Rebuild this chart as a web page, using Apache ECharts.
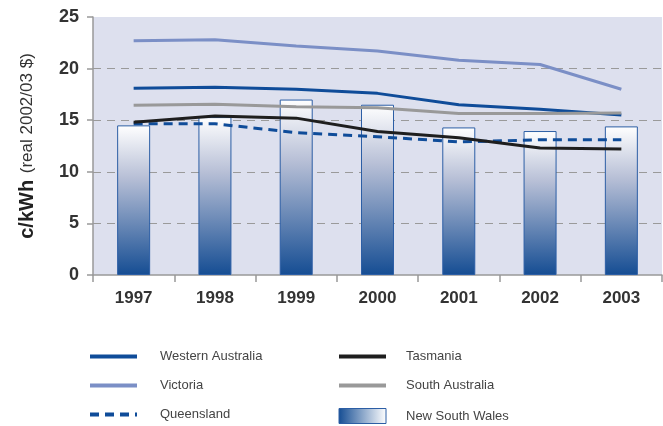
<!DOCTYPE html>
<html>
<head>
<meta charset="utf-8">
<script src="https://cdn.jsdelivr.net/npm/echarts@6/dist/echarts.min.js"></script>
<style>
  html, body { margin: 0; padding: 0; background: #fff; }
  #chart { width: 663px; height: 426px; }
</style>
</head>
<body>
<div id="chart"></div>
<script>
const years = ['1997', '1998', '1999', '2000', '2001', '2002', '2003'];
const newSouthWales = [14.5, 15.3, 17.0, 16.5, 14.3, 13.95, 14.4];
const victoria = [22.7, 22.8, 22.2, 21.7, 20.8, 20.4, 18.0];
const westernAustralia = [18.1, 18.2, 18.0, 17.6, 16.5, 16.05, 15.5];
const southAustralia = [16.45, 16.55, 16.3, 16.2, 15.65, 15.65, 15.7];
const tasmania = [14.8, 15.4, 15.2, 13.9, 13.3, 12.3, 12.2];
const queensland = [14.65, 14.65, 13.8, 13.4, 12.9, 13.1, 13.1];
const yTicks = [0, 25, 5];

const font = 'Liberation Sans, Arial, sans-serif';

// 막대 그라데이션 (위 흰색 -> 아래 진한 파랑)
const barFill = new echarts.graphic.LinearGradient(0, 0, 0, 1, [
  { offset: 0, color: '#ffffff' },
  { offset: 0.35, color: '#b7bfd6' },
  { offset: 1, color: '#154d93' }
]);
const legendFill = new echarts.graphic.LinearGradient(0, 0, 1, 0, [
  { offset: 0, color: '#154d93' },
  { offset: 1, color: '#ffffff' }
]);

function lineSeries(name, data, color, width, dashed) {
  return {
    name: name,
    type: 'line',
    data: data,
    symbol: 'none',
    z: 3,
    lineStyle: { color: color, width: width, type: dashed ? [9, 6] : 'solid' },
    itemStyle: { color: color }
  };
}

function legendBlock(left, textGap, items) {
  return {
    orient: 'vertical', left: left, top: 350, padding: 0,
    itemWidth: 47, itemHeight: 15, itemGap: 16,
    itemStyle: { opacity: 0 },
    lineStyle: { width: 4 },
    textStyle: { fontSize: 13, color: '#444', padding: [0, 0, 0, textGap] },
    data: items
  };
}

const chart = echarts.init(document.getElementById('chart'));
chart.setOption({
  animation: false,
  textStyle: { fontFamily: font },
  grid: {
    left: 93, right: 1, top: 17, bottom: 151,
    show: true, backgroundColor: '#dde0ee', borderWidth: 0
  },
  legend: [
    legendBlock(88, 18, ['Western Australia', 'Victoria', 'Queensland']),
    legendBlock(337, 15, [
      'Tasmania',
      'South Australia',
      {
        name: 'New South Wales', icon: 'rect',
        itemStyle: { opacity: 1, color: legendFill, borderColor: '#2c5ea5', borderWidth: 1 }
      }
    ])
  ],
  xAxis: {
    type: 'category',
    data: years,
    boundaryGap: true,
    axisLine: { lineStyle: { color: '#999', width: 1.5 } },
    axisTick: { show: true, length: 7, lineStyle: { color: '#999', width: 1.5 } },
    axisLabel: { fontSize: 17, fontWeight: 'bold', color: '#333', margin: 15 }
  },
  yAxis: {
    type: 'value',
    min: yTicks[0], max: yTicks[1], interval: yTicks[2],
    name: '{b|c/kWh}  {n|(real 2002/03 $)}',
    nameLocation: 'middle',
    nameGap: 56,
    nameTextStyle: {
      rich: {
        b: { fontSize: 20, fontWeight: 'bold', color: '#222', fontFamily: font },
        n: { fontSize: 17, color: '#333', fontFamily: font }
      }
    },
    axisLine: { show: true, lineStyle: { color: '#999', width: 1.5 } },
    axisTick: { show: true, length: 6, lineStyle: { color: '#999', width: 1.5 } },
    axisLabel: { fontSize: 18, fontWeight: 'bold', color: '#333', margin: 14 },
    splitLine: {
      show: true, showMinLine: false, showMaxLine: false,
      lineStyle: { color: '#9a9a9a', type: [8, 6], width: 1 }
    }
  },
  series: [
    {
      name: 'New South Wales',
      type: 'bar',
      data: newSouthWales,
      barWidth: 33,
      z: 2,
      itemStyle: { color: barFill, borderColor: '#2c5ea5', borderWidth: 1 }
    },
    lineSeries('Western Australia', westernAustralia, '#0f4c99', 3, false),
    lineSeries('Victoria', victoria, '#7b8fc6', 3, false),
    lineSeries('Queensland', queensland, '#0f4c99', 3, true),
    lineSeries('Tasmania', tasmania, '#1e1e1e', 3, false),
    lineSeries('South Australia', southAustralia, '#999999', 3, false)
  ]
});
</script>
</body>
</html>
